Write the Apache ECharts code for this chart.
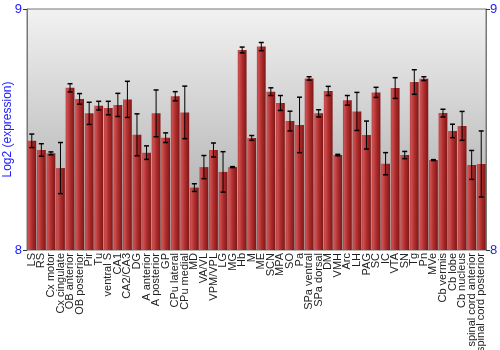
<!DOCTYPE html>
<html>
<head>
<meta charset="utf-8">
<script src="https://cdn.jsdelivr.net/npm/echarts@6/dist/echarts.min.js"></script>
<style>html,body{margin:0;padding:0;background:#fff}#c{width:500px;height:350px}</style>
</head>
<body>
<div id="c"></div>
<script>
var categories = ["LS","RS","Cx motor","Cx cingulate","OB anterior","OB posterior","Pir","Tu","ventral S","CA1","CA2/CA3","DG","A anterior","A posterior","GP","CPu lateral","CPu medial","MD","VA/VL","VPM/VPL","LG","MG","Hb","M","ME","SCN","MPA","SO","Pa","SPa ventral","SPa dorsal","DM","VMH","Arc","LH","PAG","SC","IC","VTA","SN","Tg","Pn","MVe","Cb vermis","Cb lobe","Cb nucleus","spinal cord anterior","spinal cord posterior"];
var values = [8.453,8.415,8.401,8.340,8.673,8.627,8.567,8.599,8.589,8.602,8.625,8.478,8.404,8.567,8.466,8.638,8.571,8.259,8.344,8.415,8.324,8.344,8.830,8.465,8.844,8.657,8.610,8.535,8.519,8.712,8.567,8.660,8.394,8.621,8.575,8.477,8.654,8.358,8.672,8.394,8.697,8.711,8.373,8.568,8.494,8.515,8.353,8.357];
var errors = [0.028,0.026,0.006,0.106,0.017,0.022,0.046,0.018,0.028,0.048,0.075,0.087,0.028,0.097,0.020,0.019,0.109,0.016,0.048,0.029,0.084,0.002,0.012,0.010,0.017,0.016,0.031,0.041,0.115,0.007,0.015,0.019,0.003,0.020,0.079,0.058,0.021,0.046,0.043,0.015,0.051,0.008,0.002,0.016,0.028,0.060,0.060,0.137];
var yTicks = [8, 9];

var chart = echarts.init(document.getElementById('c'), null, {renderer:'canvas'});
var errData = values.map(function(v,i){ return [i, v - errors[i], v + errors[i]]; });
var axisLabelBlue = {color:'#1a1aff', fontSize:13, fontFamily:'Liberation Sans, Arial, sans-serif'};
chart.setOption({
  animation:false,
  grid:{left:27, right:14, top:9, bottom:100, show:true, borderColor:'#777', borderWidth:1,
    containLabel:false, outerBoundsMode:'none',
    backgroundColor:{type:'linear',x:0,y:0,x2:0,y2:1,colorStops:[{offset:0,color:'#f2f2f2'},{offset:1,color:'#a4a4a4'}]}},
  xAxis:{type:'category', data:categories,
    axisLine:{show:false}, axisTick:{show:false},
    axisLabel:{rotate:90, interval:0, color:'#222', fontSize:11, margin:3, fontFamily:'Liberation Sans, Arial, sans-serif'}},
  yAxis:[
    {type:'value', min:yTicks[0], max:yTicks[1], interval:1, position:'left',
     name:'Log2 (expression)', nameLocation:'middle', nameGap:13, nameRotate:90, nameMoveOverlap:false,
     nameTextStyle:{color:'#1a1aff', fontSize:12, fontFamily:'Liberation Sans, Arial, sans-serif'},
     axisLine:{show:true, lineStyle:{color:'#777'}}, axisTick:{show:true, length:4, lineStyle:{color:'#333'}},
     splitLine:{show:false}, axisLabel:Object.assign({margin:5}, axisLabelBlue)},
    {type:'value', min:yTicks[0], max:yTicks[1], interval:1, position:'right',
     axisLine:{show:true, lineStyle:{color:'#777'}}, axisTick:{show:true, length:4, lineStyle:{color:'#333'}},
     splitLine:{show:false}, axisLabel:Object.assign({margin:4}, axisLabelBlue)}
  ],
  series:[
    {type:'bar', data:values, barWidth:'92%',
     itemStyle:{color:{type:'linear',x:0,y:0,x2:1,y2:0,colorStops:[
        {offset:0,color:'#b84040'},{offset:0.15,color:'#cc5050'},{offset:0.5,color:'#b02e2e'},{offset:1,color:'#7e1616'}]}}},
    {type:'custom', data:errData, z:5,
     renderItem:function(params, api){
        var x = api.value(0);
        var lo = api.coord([x, api.value(1)]);
        var hi = api.coord([x, api.value(2)]);
        var hw = 2.5;
        var st = {stroke:'#000', lineWidth:1};
        return {type:'group', children:[
          {type:'line', shape:{x1:lo[0],y1:lo[1],x2:hi[0],y2:hi[1]}, style:st},
          {type:'line', shape:{x1:lo[0]-hw,y1:lo[1],x2:lo[0]+hw,y2:lo[1]}, style:{stroke:'#000',lineWidth:1.5}},
          {type:'line', shape:{x1:hi[0]-hw,y1:hi[1],x2:hi[0]+hw,y2:hi[1]}, style:{stroke:'#000',lineWidth:1.5}}
        ]};
     }}
  ]
});
</script>
</body>
</html>
